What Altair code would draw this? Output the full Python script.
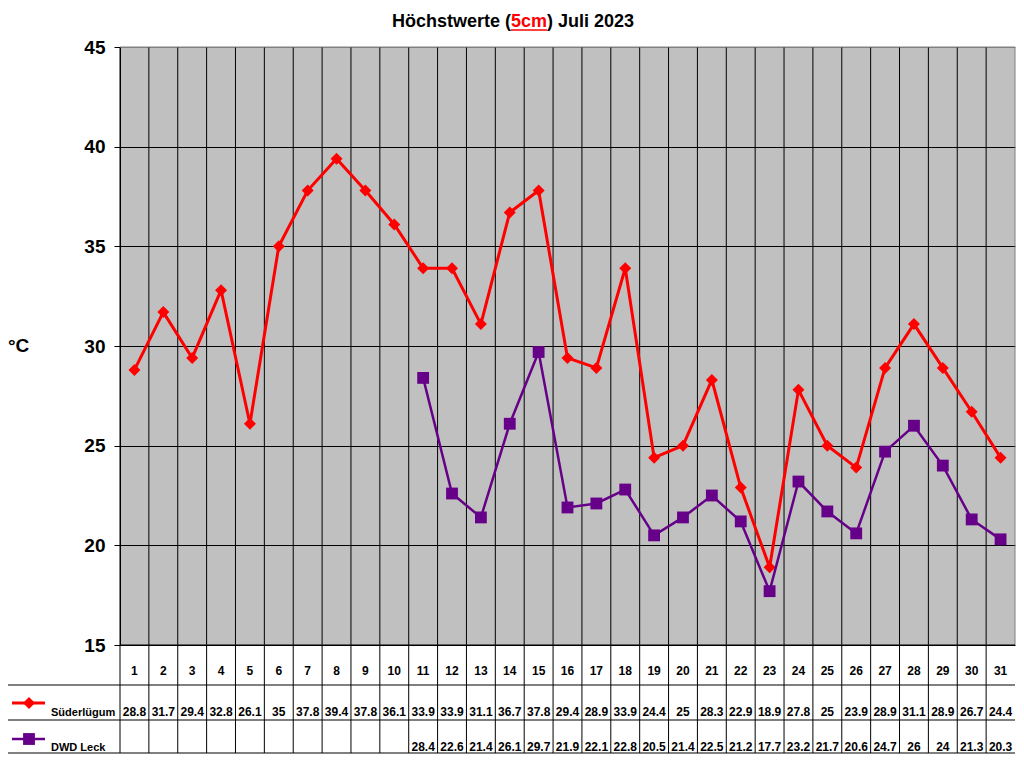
import altair as alt
import pandas as pd

days = list(range(1, 32))
sued = [28.8, 31.7, 29.4, 32.8, 26.1, 35, 37.8, 39.4, 37.8, 36.1, 33.9, 33.9, 31.1, 36.7, 37.8,
        29.4, 28.9, 33.9, 24.4, 25, 28.3, 22.9, 18.9, 27.8, 25, 23.9, 28.9, 31.1, 28.9, 26.7, 24.4]
dwd = [None] * 10 + [28.4, 22.6, 21.4, 26.1, 29.7, 21.9, 22.1, 22.8, 20.5, 21.4, 22.5, 21.2,
                     17.7, 23.2, 21.7, 20.6, 24.7, 26, 24, 21.3, 20.3]
y_ticks = [15, 20, 25, 30, 35, 40, 45]
series_names = ["Süderlügum", "DWD Leck"]
title_parts = ["Höchstwerte (", "5cm", ") Juli 2023"]

RED = "#FF0000"
PURPLE = "#660088"
FONT = "Arial, Liberation Sans, sans-serif"

df = pd.DataFrame({"day": days, "sued": sued, "dwd": dwd})
df["sued_lbl"] = [f"{v:g}" for v in sued]
df["dwd_lbl"] = [f"{v:g}" if v is not None else "" for v in dwd]
df["bound"] = df["day"] - 0.5
one = pd.DataFrame({"k": [0]})

W, H = 895, 598
R1, R2, TBOT = 638, 673, 706   # table row lines (plot-relative)
LX = -113                      # table left edge

xs = alt.Scale(domain=[0.5, 31.5], nice=False, zero=False)
ys = alt.Scale(domain=[15, 45], nice=False, zero=False)
yaxis = alt.Axis(values=y_ticks, grid=True,
                 gridColor={"condition": {"test": "datum.value == 45", "value": "#808080"}, "value": "black"},
                 gridWidth=1, tickColor="black", tickSize=6, domain=True, domainColor="black",
                 labelFont=FONT, labelFontSize=19, labelFontWeight="bold", labelColor="black",
                 labelPadding=9, title=None)

base = alt.Chart(df)
X = alt.X("day:Q", scale=xs, axis=None)

vgrid = base.mark_rule(color="black", strokeWidth=1).encode(
    x=alt.X("bound:Q", scale=xs, axis=None), y=alt.value(0), y2=alt.value(TBOT))

right_border = alt.Chart(one).mark_rule(color="#808080", strokeWidth=1).encode(
    x=alt.value(W), y=alt.value(0), y2=alt.value(H))
top_border = alt.Chart(one).mark_rule(color="#808080", strokeWidth=1).encode(
    x=alt.value(0), x2=alt.value(W), y=alt.value(0))
hlines = [alt.Chart(one).mark_rule(color="black", strokeWidth=1).encode(
    x=alt.value(x0), x2=alt.value(W), y=alt.value(yy)) for x0, yy in [(0, H), (LX, R1), (LX, R2), (LX, TBOT)]]
tleft = alt.Chart(one).mark_rule(color="black", strokeWidth=1).encode(
    x=alt.value(LX), y=alt.value(R1), y2=alt.value(TBOT))

line_s = base.mark_line(color=RED, strokeWidth=3).encode(
    x=X, y=alt.Y("sued:Q", scale=ys, axis=yaxis))
pts_s = base.mark_point(shape="diamond", filled=True, color=RED, size=144, opacity=1).encode(
    x=X, y=alt.Y("sued:Q", scale=ys, axis=yaxis))
line_d = base.mark_line(color=PURPLE, strokeWidth=2.5).encode(
    x=X, y=alt.Y("dwd:Q", scale=ys, axis=yaxis))
pts_d = base.mark_point(shape="square", filled=True, color=PURPLE, size=140, opacity=1).encode(
    x=X, y=alt.Y("dwd:Q", scale=ys, axis=yaxis))

tstyle = dict(font=FONT, fontSize=12, fontWeight="bold", color="black", align="center", baseline="alphabetic")
cat_txt = base.mark_text(**tstyle).encode(x=X, y=alt.value(628), text="day:N")
s_txt = base.mark_text(**tstyle).encode(x=X, y=alt.value(669), text="sued_lbl:N")
d_txt = base.mark_text(**tstyle).encode(x=X, y=alt.value(704), text="dwd_lbl:N")

lstyle = dict(font=FONT, fontSize=11, fontWeight="bold", color="black", align="left", baseline="alphabetic")
key_s_line = alt.Chart(one).mark_rule(color=RED, strokeWidth=3).encode(
    x=alt.value(-108), x2=alt.value(-75), y=alt.value(656))
key_s_pt = alt.Chart(one).mark_point(shape="diamond", filled=True, color=RED, size=144, opacity=1).encode(
    x=alt.value(-91), y=alt.value(656))
key_s_lbl = alt.Chart(one).mark_text(text=series_names[0], **lstyle).encode(x=alt.value(-69), y=alt.value(669))
key_d_line = alt.Chart(one).mark_rule(color=PURPLE, strokeWidth=2.5).encode(
    x=alt.value(-108), x2=alt.value(-75), y=alt.value(692))
key_d_pt = alt.Chart(one).mark_point(shape="square", filled=True, color=PURPLE, size=140, opacity=1).encode(
    x=alt.value(-91), y=alt.value(692))
key_d_lbl = alt.Chart(one).mark_text(text=series_names[1], **lstyle).encode(x=alt.value(-69), y=alt.value(704))

unit = alt.Chart(one).mark_text(text="°C", font=FONT, fontSize=19, fontWeight="bold", color="black",
                                align="left", baseline="alphabetic").encode(x=alt.value(-112), y=alt.value(305))

ttl = dict(font=FONT, fontSize=18, fontWeight="bold", baseline="alphabetic")
t1 = alt.Chart(one).mark_text(text=title_parts[0], align="right", color="black", **ttl).encode(
    x=alt.value(391), y=alt.value(-20))
t2 = alt.Chart(one).mark_text(text=title_parts[1], align="left", color=RED, **ttl).encode(
    x=alt.value(391), y=alt.value(-20))
t3 = alt.Chart(one).mark_text(text=title_parts[2], align="left", color="black", **ttl).encode(
    x=alt.value(427), y=alt.value(-20))
t_ul = alt.Chart(one).mark_rule(color=RED, strokeWidth=1.5).encode(
    x=alt.value(391), x2=alt.value(427), y=alt.value(-17))

chart = alt.layer(
    vgrid, right_border, top_border, *hlines, tleft,
    line_s, pts_s, line_d, pts_d,
    cat_txt, s_txt, d_txt,
    key_s_line, key_s_pt, key_s_lbl, key_d_line, key_d_pt, key_d_lbl,
    unit, t1, t2, t3, t_ul,
).properties(
    width=W, height=H,
    autosize=alt.AutoSizeParams(type="none"),
    padding={"left": 112, "top": 39, "right": 1, "bottom": 109},
).configure_view(fill="#C0C0C0", stroke=None)

chart.save("out.html", embed_options={"renderer": "svg", "actions": False})
